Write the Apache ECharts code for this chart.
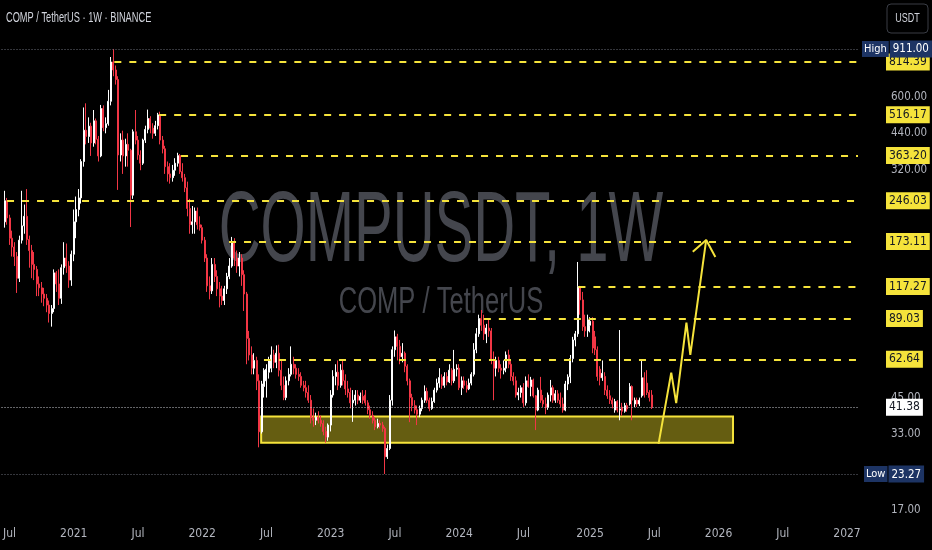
<!DOCTYPE html>
<html>
<head>
<meta charset="utf-8">
<script src="https://cdn.jsdelivr.net/npm/echarts@6/dist/echarts.min.js"></script>
<style>
html,body{margin:0;padding:0;background:#000;}
#chart{width:932px;height:550px;}
</style>
</head>
<body>
<div id="chart"></div>
<script>
// ---------- DATA ----------
const firstWeek = '2020-06-22';
// weekly candles: [open, close, low, high]
const weeklyOHLC = [
[205,246,195,268],[246,212,200,252],[212,178,168,218],[178,165,152,190],[165,152,140,172],
[152,126,111,158],[126,175,122,182],[175,198,170,268],[198,215,185,238],[215,176,168,272],
[176,160,138,182],[160,142,126,168],[142,136,124,158],[136,120,108,140],[120,116,108,128],
[116,110,102,122],[110,106,99,116],[106,100,94,110],[100,93,86,104],[93,97,83,100],
[97,132,94,136],[132,120,112,134],[120,106,100,136],[106,138,101,142],[138,150,130,172],
[150,140,132,170],[140,124,116,146],[124,155,118,160],[155,205,146,228],[205,228,178,255],
[228,252,215,272],[252,345,240,352],[345,452,330,550],[452,428,400,570],[428,468,405,505],
[468,405,362,482],[405,490,392,538],[490,418,400,500],[418,362,345,430],[362,545,358,562],
[545,462,448,560],[462,478,440,505],[478,580,470,640],[580,814.39,560,850],[814,760,720,911],
[760,700,670,790],[700,365,270,720],[365,415,345,440],[415,362,310,450],[362,400,330,420],
[400,380,330,440],[380,258,196,385],[258,446,250,455],[446,415,400,538],[415,365,350,430],
[365,340,320,380],[340,415,335,420],[415,455,405,470],[455,500,440,540],[500,460,440,510],
[460,440,420,480],[440,470,430,490],[470,516,455,525],[516,415,400,530],[415,385,370,430],
[385,330,310,395],[330,310,290,345],[310,300,285,340],[300,320,290,335],[320,340,305,355],
[340,363,330,372],[363,316,310,368],[316,300,290,340],[300,275,265,310],[275,230,215,290],
[230,200,185,250],[200,205,185,235],[205,225,185,232],[225,200,192,232],[200,195,190,215],
[195,175,170,200],[175,150,145,180],[150,118,112,155],[118,113,105,128],[113,142,110,150],
[142,128,122,150],[128,115,108,135],[115,108,98,122],[108,104,100,118],[104,115,100,118],
[115,128,110,132],[128,140,125,150],[140,173,138,180],[173,150,140,178],[150,140,132,160],
[140,150,128,158],[150,130,118,155],[130,110,95,135],[110,75,60,112],[75,65,62,80],
[65,58,55,70],[58,62,55,66],[62,52,48,64],[52,33.5,29.3,55],[33.5,50.6,33,52],
[49.5,57,45,58],[52,57.5,45,60],[56,62,53,64],[58,65,56,70],[65,61,58,68],
[61,66,58,70.6],[66,57,54,71],[57,50,48,62],[50,45,44,54],[45,52,44,54],
[52,55,50,58],[55,60,54,70],[60,58,55,64],[58,55,53,60],[55,54,52,58],
[54,50,49,56],[50,49,47.5,52],[49,47,45,52],[47,44,43,50],[44,38,36,46],
[38,37,35,41],[37,38,35.5,39.5],[38,37,36,40],[37,36,35,38.5],[36,33.6,32.5,37],
[33.6,32,30.5,35],[32,35.5,31,36],[35.5,46,33.6,48],[46,54,45,57],[54,56,50,60],
[56,50,48,62],[50,57,49,60],[57,52,50,62.7],[52,48.5,46,55],[48.5,47,45,52],
[47,43,41,49],[43,44,36.5,48],[44,46,42,48],[46,44,42.5,48],[44,45.5,43,47],
[45.5,44,42.6,48],[46,43,42,48],[43,40.5,39,44],[40.5,38.6,37.5,42],[38.6,37,36,40],
[37,35,34,38],[35,36,34.5,37.5],[36,35.5,34.5,37],[35.5,34.5,33.5,36.5],[34.5,27,23.27,35],
[27,29,26.5,30],[29,44,28.6,46],[44,68,42,70],[68,76,64,80.3],[76,70,62,78],
[70,64,60,74],[64,66,61,72],[66,59,56,67],[59,52,50,60],[52,45,36.4,53],
[45,42,40,46.5],[42,40.5,39.2,44],[40.5,39,35.5,42],[39,41,38,42],[41,44,40,45],
[44,47.5,43,50],[47.5,44,43,49],[44,41,40,45],[41,43.5,40.5,45],[43.5,48,43,49],
[48,51,47,53],[51,53.5,49,58],[53.5,50,48.5,55],[50,54,49,56],[54,51.5,50,56],
[51.5,57,51,60],[57,52,50,58],[52,57.5,51,67.9],[57.5,58,54,60],[58,49,48,60],
[49,52,46,54],[52,50,48.5,54],[50,48.5,47,52],[48.5,51,48,53],[51,55,50,56],
[55,68,54,72],[68,78,66,82],[78,89.03,76,92],[89,84,80,95.8],[84,78,74,92],
[78,82,72,85],[82,80,76,88],[80,62,60,82],[62,58,44,67],[58,62,54,64],
[62,58,56,64],[58,57,53,60],[57,58,55,62],[58,65,56,67],[65,60,58,68],
[60,54,52,62],[54,52,50,56],[52,46,45,54],[46,47,44,49],[47,49,45,50],
[49,43,41.5,51],[43,52,42,54],[52,49.5,49,55],[49.5,52.4,45.5,53.8],[52.4,45.7,45,53],
[45.7,40.4,34,46],[40.4,48,40,49],[48,44,43,53.8],[44,42.6,41.5,46],[42.6,41.3,39,45],
[41.3,46,40.5,47],[46,49,43.5,52.4],[49,44,43,50],[44,46.5,43,48],[46.5,44,43,48],
[44,42.6,41.5,47],[42.6,40.4,39.5,45],[40.4,50.6,40,52],[50.6,53.8,48,55],[53.8,63,51,65],
[63,74,61,76],[74,78,70,80],[78,117.27,76,145],[117.27,104.5,92,118],[104.5,83,80,112],
[83,80,76,92],[80,88,76,92],[84,87,79,90],[87,69,66,90],[76,68,65,80],
[68,54,52,70],[57.5,53.4,50,59],[53.4,55.5,52,62],[54,48,46,56],[48,45.7,44.5,50],
[45.7,44,42.6,48],[44,42.6,41,45],[40.4,43.5,39.5,44.5],[43.5,40.4,39.6,44],[40.4,40.8,37,80.6],
[41.5,40,38.5,43],[40,42,39.5,43],[42,40.8,39.8,43],[42.6,49.5,42,51],[49.5,44,37,50],
[42.6,44,41.5,45],[44,42.6,41.5,45],[42.6,44,41.8,45],[45.7,53.4,45,62.3],[53.4,46,45,56],
[51,47,46,57],[47,45,43.5,48],[46,41.38,40.8,48]
];

// horizontal levels drawn on the chart
const levelValues = [814.39, 516.17, 363.20, 246.03, 173.11, 117.27, 89.03, 62.64];
const levelStarts = ['2021-04-29','2021-09-03','2021-11-04','2020-06-29','2022-03-20','2024-12-04','2024-03-11','2022-06-27'];
const highValue = 911.00;
const lowValue = 23.27;
const lastPrice = 41.38;

// support zone
const zoneStart = '2022-06-19', zoneEnd = '2026-02-15';
const zoneTop = 38.2, zoneBottom = 30.5;

// projected path drawing
const arrowPath = [['2025-07-19',30.2],['2025-08-24',55.8],['2025-09-07',42.9],['2025-10-06',85.9],['2025-10-17',65.0],['2025-12-01',175.3]];
const arrowHead = [['2025-10-24',158.5],['2025-12-01',175.3],['2025-12-27',151.4]];

// axis ticks
const priceTicks = [600, 440, 320, 45, 33, 17];
const timeTickDates = ['2020-07-06','2021-01-04','2021-07-05','2022-01-03','2022-07-04','2023-01-02','2023-07-03','2024-01-01','2024-07-01','2025-01-06','2025-07-07','2026-01-05','2026-07-06','2027-01-04'];
const timeTickLabels = ['Jul','2021','Jul','2022','Jul','2023','Jul','2024','Jul','2025','Jul','2026','Jul','2027'];

// ---------- BUILD ----------
const DAY = 86400000, WEEK = 7*DAY;
const ts = s => Date.parse(s + 'T00:00:00Z');
const t0 = ts(firstWeek);
const candles = weeklyOHLC.map((c,i)=>[t0 + i*WEEK, c[0], c[1], c[2], c[3]]);
const xMin = t0 - 1.232*WEEK;
const xMax = t0 + 345.45*WEEK;
const tickTs = timeTickDates.map(ts);

const YEL = '#f5e33b';
const NARROW = '"Liberation Sans Narrow","DejaVu Sans Condensed","Roboto Condensed",sans-serif';

const levelLines = levelValues.map((v,i)=>[
  {coord:[ts(levelStarts[i]), v],
   lineStyle:{color:YEL, type:[7,8], width:2},
   label:{show:true, position:'end', formatter:v.toFixed(2), backgroundColor:YEL, color:'#131722',
          padding:[3,3,2,3], fontSize:12, fontFamily:NARROW, distance:28}},
  {coord:[xMax, v]}
]);
const hlRich = () => ({
  t:{backgroundColor:'#1d3464', color:'#fff', padding:[3,2,2,2], fontSize:11, fontFamily:NARROW},
  g:{width:1, fontSize:11},
  v:{backgroundColor:'#1d3464', color:'#fff', padding:[3,3,2,3], fontSize:11.5, fontFamily:NARROW}
});
const extraLines = [
  [{coord:[xMin, highValue], lineStyle:{color:'#6a6d78', type:[1,2], width:1},
    label:{show:true, position:'end', distance:4, formatter:'{t|High}{g|}{v|'+highValue.toFixed(2)+'}', rich:hlRich()}},
   {coord:[xMax, highValue]}],
  [{coord:[xMin, lowValue], lineStyle:{color:'#6a6d78', type:[1,2], width:1},
    label:{show:true, position:'end', distance:6, formatter:'{t|Low}{g|}{v|'+lowValue.toFixed(2)+'}', rich:hlRich()}},
   {coord:[xMax, lowValue]}],
  [{coord:[xMin, lastPrice], lineStyle:{color:'#c8cad0', type:[1,2], width:1},
    label:{show:true, position:'end', distance:28, formatter:lastPrice.toFixed(2), backgroundColor:'#ffffff', color:'#131722',
           padding:[3,3,2,3], fontSize:12, fontFamily:NARROW}},
   {coord:[xMax, lastPrice]}]
];

const chart = echarts.init(document.getElementById('chart'), null, {renderer:'canvas'});
chart.setOption({
  backgroundColor:'#000000',
  animation:false,
  grid:{left:0, right:74, top:0, bottom:30, containLabel:false},
  xAxis:{
    type:'value', min:xMin, max:xMax, scale:true,
    axisLine:{show:false}, axisTick:{show:false}, splitLine:{show:false},
    axisLabel:{customValues:tickTs, color:'#b2b5be', fontSize:12, fontFamily:NARROW, margin:8,
      formatter:(val)=>{ const i = tickTs.indexOf(val); return i>=0 ? timeTickLabels[i] : ''; }}
  },
  yAxis:{
    type:'log', logBase:10, min:15.65, max:1390, position:'right',
    axisLine:{show:false}, axisTick:{show:false}, splitLine:{show:false},
    axisLabel:{customValues:priceTicks, color:'#b2b5be', fontSize:11.5, fontFamily:NARROW, margin:33,
      formatter:(v)=>Number(v).toFixed(2)}
  },
  graphic:[
    {type:'text', x:441, y:233, scaleX:0.58, silent:true, z:0,
     style:{text:'COMPUSDT, 1W', font:'100px "Liberation Sans", Arial, sans-serif', fill:'#44464d', align:'center', verticalAlign:'middle'}},
    {type:'text', x:441, y:303, scaleX:0.71, silent:true, z:0,
     style:{text:'COMP / TetherUS', font:'36px "Liberation Sans", Arial, sans-serif', fill:'#44464d', align:'center', verticalAlign:'middle'}},
    {type:'text', x:6, y:18, scaleX:0.66, silent:true, z:100,
     style:{text:'COMP / TetherUS \u00b7 1W \u00b7 BINANCE', font:'14px "Liberation Sans", Arial, sans-serif', fill:'#d1d4dc', align:'left', verticalAlign:'middle'}},
    {type:'rect', shape:{x:887, y:4, width:41, height:29, r:4}, style:{fill:'#000', stroke:'#3a3d45', lineWidth:1}, z:100},
    {type:'text', x:907.5, y:19, scaleX:0.75, z:101,
     style:{text:'USDT', font:'12px "Liberation Sans", Arial, sans-serif', fill:'#d1d4dc', align:'center', verticalAlign:'middle'}}
  ],
  series:[
    {
      type:'candlestick', name:'COMPUSDT', data:candles, barWidth:1.5, z:3,
      itemStyle:{color:'#ffffff', color0:'#f23645', borderColor:'#ffffff', borderColor0:'#f23645', borderWidth:1}
    },
    {
      type:'line', name:'path', data:arrowPath.map(p=>[ts(p[0]),p[1]]), symbol:'none', z:10, silent:true,
      lineStyle:{color:YEL, width:2},
      markArea:{silent:true, data:[[
        {coord:[ts(zoneStart), zoneTop], itemStyle:{color:'rgba(240,222,40,0.42)', borderColor:YEL, borderWidth:2}},
        {coord:[ts(zoneEnd), zoneBottom]}
      ]]},
      markLine:{silent:true, symbol:['none','none'], animation:false, data: levelLines.concat(extraLines)}
    },
    {
      type:'line', name:'head', data:arrowHead.map(p=>[ts(p[0]),p[1]]), symbol:'none', z:10, silent:true,
      lineStyle:{color:YEL, width:2}
    }
  ]
});
</script>
</body>
</html>
